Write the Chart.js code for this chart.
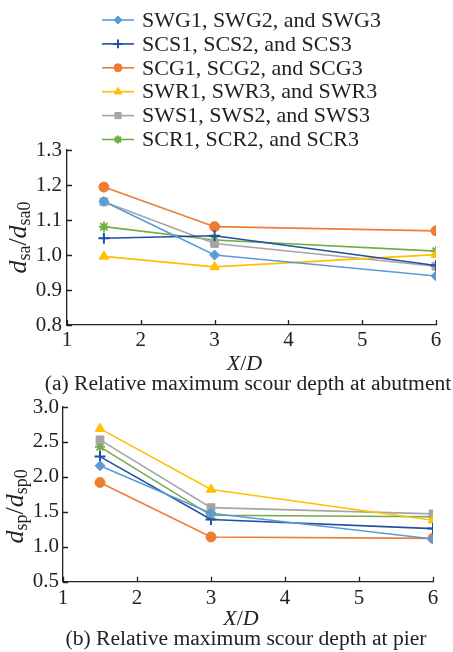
<!DOCTYPE html>
<html>
<head>
<meta charset="utf-8">
<script src="https://cdn.jsdelivr.net/npm/chart.js@4/dist/chart.umd.min.js"></script>
<style>
  html, body { margin: 0; padding: 0; background: #fff; }
  #wrap { position: relative; width: 453px; height: 652px; overflow: hidden; }
  .box { position: absolute; left: 0; width: 453px; }
  .cap { position: absolute; width: 480px; text-align: center;
         font: 21.6px "Liberation Serif", serif; color: #222; line-height: 26px; white-space: nowrap; }
</style>
</head>
<body>
<div id="wrap">
  <div class="box" style="top:0;height:375px"><canvas id="abut"></canvas></div>
  <div class="box" style="top:375px;height:277px"><canvas id="pier"></canvas></div>
  <div class="cap" style="top:370px;left:8px">(a) Relative maximum scour depth at abutment</div>
  <div class="cap" style="top:625px;left:6px">(b) Relative maximum scour depth at pier</div>
</div>
<script>
// X/D positions of the measuring sections
const xd = [1.5, 3, 6];

const names = [
  'SWG1, SWG2, and SWG3',
  'SCS1, SCS2, and SCS3',
  'SCG1, SCG2, and SCG3',
  'SWR1, SWR3, and SWR3',
  'SWS1, SWS2, and SWS3',
  'SCR1, SCR2, and SCR3'
];

// relative scour depth at abutment, d_sa/d_sa0
const abutSWG = [1.153, 1.000, 0.940];
const abutSCS = [1.048, 1.055, 0.970];
const abutSCG = [1.194, 1.081, 1.069];
const abutSWR = [0.996, 0.966, 1.001];
const abutSWS = [1.152, 1.033, 0.968];
const abutSCR = [1.081, 1.043, 1.011];

// relative scour depth at pier, d_sp/d_sp0
const pierSWG = [2.16, 1.48, 1.11];
const pierSCS = [2.29, 1.39, 1.26];
const pierSCG = [1.92, 1.14, 1.12];
const pierSWR = [2.69, 1.82, 1.38];
const pierSWS = [2.53, 1.56, 1.47];
const pierSCR = [2.43, 1.45, 1.43];

const xTicks = [1, 2, 3, 4, 5, 6];
const abutTicks = [0.8, 0.9, 1.0, 1.1, 1.2, 1.3];
const pierTicks = [0.5, 1.0, 1.5, 2.0, 2.5, 3.0];

const colors = ['#5b9bd5', '#1f4fa0', '#ed7d31', '#ffc000', '#a5a5a5', '#70ad47'];
const styles = ['rectRot', 'cross', 'circle', 'triangle', 'rect', 'star'];
const radii = [5, 5.5, 5, 5.5, 5.5, 5];

const serif = '"Liberation Serif", "Times New Roman", serif';
const axisColor = '#222';

function makeSets(rows) {
  return rows.map((vals, i) => ({
    label: names[i],
    data: vals.map((v, k) => ({ x: xd[k], y: v })),
    borderColor: colors[i],
    backgroundColor: colors[i],
    borderWidth: 1.6,
    pointStyle: styles[i],
    pointRadius: radii[i],
    pointBorderWidth: (styles[i] === 'cross' || styles[i] === 'star') ? 2 : 1,
    pointBorderColor: colors[i],
    pointBackgroundColor: colors[i],
    tension: 0
  }));
}

// text made of pieces with different fonts (italic d, subscripts ...)
function richText(ctx, parts, cx, cy, angle) {
  ctx.save();
  ctx.translate(cx, cy);
  ctx.rotate(angle);
  ctx.textBaseline = 'alphabetic';
  ctx.fillStyle = axisColor;
  let total = 0;
  parts.forEach(p => { ctx.font = p.font; total += ctx.measureText(p.t).width; });
  let x = -total / 2;
  parts.forEach(p => {
    ctx.font = p.font;
    ctx.fillText(p.t, x, 7 + (p.dy || 0));
    x += ctx.measureText(p.t).width;
  });
  ctx.restore();
}

// inward tick marks on both axes
const innerTicks = {
  id: 'innerTicks',
  afterDraw(chart) {
    const { ctx, scales: { x, y } } = chart;
    ctx.save();
    ctx.strokeStyle = axisColor;
    ctx.lineWidth = 1.3;
    ctx.beginPath();
    xTicks.forEach(v => {
      const px = Math.round(x.getPixelForValue(v)) + 0.5;
      ctx.moveTo(px, y.bottom);
      ctx.lineTo(px, y.bottom - 5);
    });
    y.ticks.forEach(t => {
      const py = Math.round(y.getPixelForValue(t.value)) + 0.5;
      ctx.moveTo(x.left, py);
      ctx.lineTo(x.left + 5, py);
    });
    ctx.stroke();
    ctx.restore();
  }
};

// axis titles
const axisTitles = {
  id: 'axisTitles',
  afterDraw(chart, args, opts) {
    const { ctx, chartArea: a } = chart;
    richText(ctx, [
      { t: 'X', font: 'italic 22px ' + serif },
      { t: '/', font: '22px ' + serif },
      { t: 'D', font: 'italic 22px ' + serif }
    ], (a.left + a.right) / 2 - 7, a.bottom + opts.xGap, 0);
    const it = 'italic 26px ' + serif, up = '26px ' + serif, sub = '18px ' + serif;
    richText(ctx, [
      { t: 'd', font: it }, { t: opts.sub, font: sub, dy: 4 },
      { t: '/', font: up },
      { t: 'd', font: it }, { t: opts.sub + '0', font: sub, dy: 4 }
    ], opts.yX, (a.top + a.bottom) / 2 + opts.yShift, -Math.PI / 2);
  }
};

// series key above the first panel: line with the marker in the middle
const keyBox = {
  id: 'keyBox',
  afterDraw(chart) {
    const { ctx } = chart;
    ctx.save();
    chart.data.datasets.forEach((ds, i) => {
      const cy = 20 + i * 23.9;
      ctx.strokeStyle = ds.borderColor;
      ctx.lineWidth = 1.6;
      ctx.beginPath();
      ctx.moveTo(102, cy);
      ctx.lineTo(134, cy);
      ctx.stroke();
      ctx.fillStyle = ds.backgroundColor;
      ctx.strokeStyle = ds.borderColor;
      ctx.lineWidth = ds.pointBorderWidth;
      Chart.helpers.drawPoint(ctx, {
        pointStyle: ds.pointStyle, radius: ds.pointRadius * 0.8,
        borderWidth: ds.pointBorderWidth, rotation: 0
      }, 118, cy);
      ctx.fillStyle = axisColor;
      ctx.font = '22px ' + serif;
      ctx.textBaseline = 'middle';
      ctx.fillText(ds.label, 142, cy + 1);
    });
    ctx.restore();
  }
};

function panel(id, rows, ticks, opts) {
  return new Chart(document.getElementById(id), {
    type: 'line',
    data: { datasets: makeSets(rows) },
    plugins: opts.key ? [innerTicks, axisTitles, keyBox] : [innerTicks, axisTitles],
    options: {
      responsive: true,
      maintainAspectRatio: false,
      animation: false,
      layout: { padding: { left: 0, right: opts.right, top: opts.top, bottom: 0 } },
      plugins: {
        legend: { display: false },
        tooltip: { enabled: false },
        axisTitles: opts.titles
      },
      scales: {
        x: {
          type: 'linear',
          min: xTicks[0],
          max: xTicks[xTicks.length - 1],
          afterBuildTicks: s => { s.ticks = xTicks.map(v => ({ value: v })); },
          afterFit: s => { s.height = opts.xh; },
          grid: { display: false, drawTicks: false },
          border: { display: true, color: axisColor, width: 1.3 },
          ticks: { color: axisColor, font: { family: serif, size: 21 }, padding: opts.xpad, maxRotation: 0 }
        },
        y: {
          min: ticks[0],
          max: ticks[ticks.length - 1],
          afterBuildTicks: s => { s.ticks = ticks.map(v => ({ value: v })); },
          afterFit: s => { s.width = opts.yw; },
          grid: { display: false, drawTicks: false },
          border: { display: true, color: axisColor, width: 1.3 },
          ticks: {
            color: axisColor,
            font: { family: serif, size: 21 },
            padding: opts.ypad,
            callback: v => Number(v).toFixed(1)
          }
        }
      }
    }
  });
}

panel('abut', [abutSWG, abutSCS, abutSCG, abutSWR, abutSWS, abutSCR], abutTicks, {
  key: true, right: 17, top: 150, xh: 50, yw: 67, xpad: 2.5, ypad: 5,
  titles: { sub: 'sa', xGap: 38, yX: 19, yShift: 0 }
});

panel('pier', [pierSWG, pierSCS, pierSCG, pierSWR, pierSWS, pierSCR], pierTicks, {
  key: false, right: 20, top: 32, xh: 70.3, yw: 63, xpad: 3.7, ypad: 4,
  titles: { sub: 'sp', xGap: 36, yX: 16, yShift: 12 }
});
</script>
</body>
</html>
